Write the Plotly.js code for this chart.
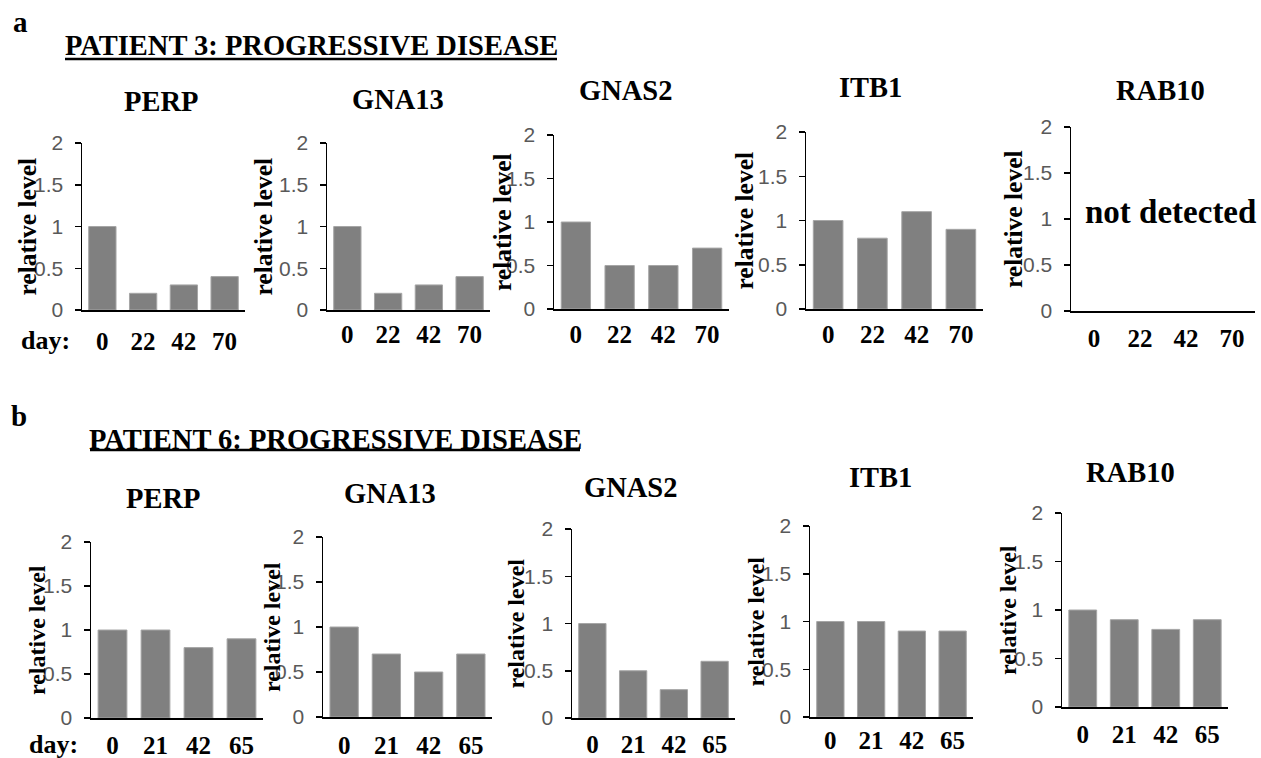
<!DOCTYPE html>
<html>
<head>
<meta charset="utf-8">
<script src="https://cdn.plot.ly/plotly-3.0.1.min.js"></script>
<style>
html,body{margin:0;padding:0;background:#fff;}
#chart{width:1261px;height:758px;}
</style>
</head>
<body>
<div id="chart"></div>
<script>
// ---- data ----
const genes = ['PERP', 'GNA13', 'GNAS2', 'ITB1', 'RAB10'];
const daysA = ['0', '22', '42', '70'];
const daysB = ['0', '21', '42', '65'];
const perpA  = [1.0, 0.2, 0.3, 0.4];
const gna13A = [1.0, 0.2, 0.3, 0.4];
const gnas2A = [1.0, 0.5, 0.5, 0.7];
const itb1A  = [1.0, 0.8, 1.1, 0.9];
const rab10A = [null, null, null, null]; // not detected
const perpB  = [1.0, 1.0, 0.8, 0.9];
const gna13B = [1.0, 0.7, 0.5, 0.7];
const gnas2B = [1.0, 0.5, 0.3, 0.6];
const itb1B  = [1.0, 1.0, 0.9, 0.9];
const rab10B = [1.0, 0.9, 0.8, 0.9];
const yTickVals = [0, 0.5, 1, 1.5, 2];
const yTickText = ['0', '0.5', '1', '1.5', '2'];
const panelATitle = 'PATIENT 3: PROGRESSIVE DISEASE';
const panelBTitle = 'PATIENT 6: PROGRESSIVE DISEASE';
const yTitle = 'relative level';

const seriesA = [perpA, gna13A, gnas2A, itb1A, rab10A];
const seriesB = [perpB, gna13B, gnas2B, itb1B, rab10B];

// ---- geometry (pixels): left, right, top, bottom, x-label standoff, y-title x, title x, title y ----
const W = 1261, H = 758;
const geoA = [
  [82, 245, 143, 310, 8, 27, 161, 101],
  [327, 490, 143, 310, 1, 263, 398, 100],
  [554, 729, 135, 309, 2, 502, 625, 91],
  [806, 983, 132, 309, 2, 744, 870, 88],
  [1071, 1255, 127, 311, 4, 1013, 1160, 91]
];
const geoB = [
  [91, 263, 542, 718, 4, 37, 163, 498],
  [323, 492, 537, 717, 5, 272, 390, 493],
  [572, 735, 529, 718, 3, 515, 630, 487],
  [810, 973, 526, 717, 0, 755, 880, 477],
  [1062, 1228, 513, 707, 4, 1008, 1130, 472]
];

const serif = 'Liberation Serif, Times New Roman, serif';
const sans = 'Liberation Sans, Arial, sans-serif';
const px = v => v / W;
const py = v => 1 - v / H;

const data = [];
const layout = {
  width: W, height: H,
  margin: {l: 0, r: 0, t: 0, b: 0, pad: 0},
  paper_bgcolor: '#fff', plot_bgcolor: '#fff',
  showlegend: false,
  bargap: 0.33,
  annotations: [],
  shapes: []
};

function addPanel(series, days, geo, offset) {
  series.forEach((vals, i) => {
    const n = offset + i + 1;
    const g = geo[i];
    const xa = n === 1 ? 'xaxis' : 'xaxis' + n;
    const ya = n === 1 ? 'yaxis' : 'yaxis' + n;
    const xr = n === 1 ? 'x' : 'x' + n;
    const yr = n === 1 ? 'y' : 'y' + n;
    data.push({
      type: 'bar', x: days, y: vals, xaxis: xr, yaxis: yr,
      marker: {color: '#808080', line: {color: '#a6a6a6', width: 1}},
      hoverinfo: 'x+y'
    });
    layout[xa] = {
      domain: [px(g[0]), px(g[1])], anchor: yr, type: 'category',
      range: [-0.5, 3.5], showline: true, linecolor: '#000', linewidth: 1.5,
      ticks: '', showgrid: false, zeroline: false, fixedrange: true,
      tickfont: {family: serif, size: 25, color: '#000', weight: 700},
      ticklabelstandoff: g[4]
    };
    layout[ya] = {
      domain: [py(g[3]), py(g[2])], anchor: xr,
      range: [0, 2], tickvals: yTickVals, ticktext: yTickText,
      showline: true, linecolor: '#000', linewidth: 1.5,
      ticks: 'outside', ticklen: 6, tickwidth: 1.5, tickcolor: '#000',
      showgrid: false, zeroline: false, fixedrange: true,
      tickfont: {family: sans, size: 21, color: '#595959'},
      ticklabelstandoff: 7
    };
    // y-axis title
    layout.annotations.push({
      xref: 'paper', yref: 'paper', x: px(g[5]), y: py((g[2] + g[3]) / 2),
      text: '<b>' + yTitle + '</b>', textangle: -90, showarrow: false,
      xanchor: 'center', yanchor: 'middle',
      font: {family: serif, size: offset === 0 ? 25.5 : 24, color: '#000'}
    });
    // chart title
    layout.annotations.push({
      xref: 'paper', yref: 'paper', x: px(g[6]), y: py(g[7]),
      text: '<b>' + genes[i] + '</b>', showarrow: false,
      xanchor: 'center', yanchor: 'middle',
      font: {family: serif, size: 28.5, color: '#000'}
    });
  });
}

addPanel(seriesA, daysA, geoA, 0);
addPanel(seriesB, daysB, geoB, 5);

const extra = [
  {x: 20, y: 22, text: '<b>a</b>', size: 29},
  {x: 19, y: 416, text: '<b>b</b>', size: 29},
  {x: 311, y: 46, text: '<b>' + panelATitle + '</b>', size: 28.5},
  {x: 335, y: 439, text: '<b>' + panelBTitle + '</b>', size: 28.5},
  {x: 45, y: 340, text: '<b>day:</b>', size: 26},
  {x: 53, y: 744, text: '<b>day:</b>', size: 26},
  {x: 1170, y: 212, text: '<b>not detected</b>', size: 33}
];
extra.forEach(e => layout.annotations.push({
  xref: 'paper', yref: 'paper', x: px(e.x), y: py(e.y), text: e.text,
  showarrow: false, xanchor: 'center', yanchor: 'middle',
  font: {family: serif, size: e.size, color: '#000'}
}));

// underlines of panel titles
[[65, 557, 59], [90, 580, 450]].forEach(u => layout.shapes.push({
  type: 'line', xref: 'paper', yref: 'paper',
  x0: px(u[0]), x1: px(u[1]), y0: py(u[2]), y1: py(u[2]),
  line: {color: '#000', width: 2.5}
}));

Plotly.newPlot('chart', data, layout, {displayModeBar: false, staticPlot: true});
</script>
</body>
</html>
